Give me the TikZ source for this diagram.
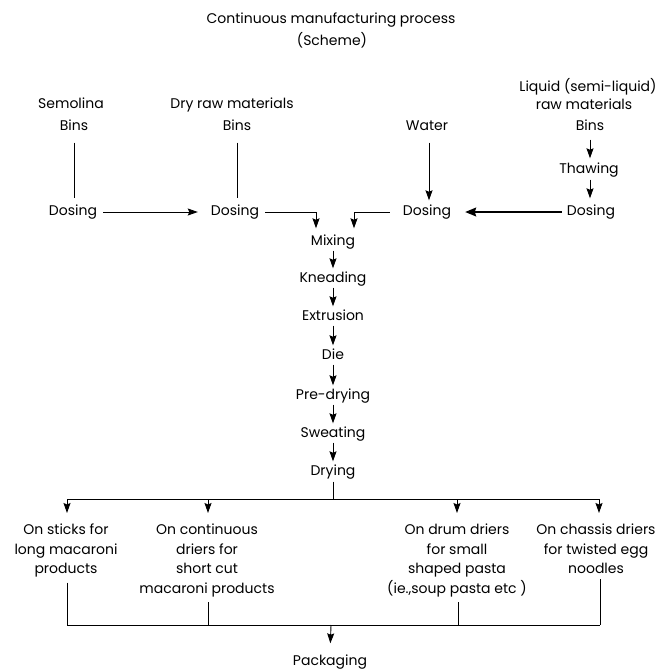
\documentclass[tikz,border=0pt]{standalone}
\usepackage{fontspec}
\setmainfont{Poppins}
\usetikzlibrary{arrows.meta,calc}
\begin{document}
\begin{tikzpicture}[x=1pt,y=-1pt,
  lbl/.style={inner sep=1pt,text height=10pt,text depth=3pt,font=\fontsize{14}{19.5}\selectfont},
  blk/.style={inner sep=0pt,align=center,anchor=north,font=\fontsize{14}{19.5}\selectfont},
  ln/.style={line width=0.9pt},
  arr/.style={line width=0.9pt,-{Stealth[length=10pt,width=7pt,inset=1.5pt]}},
  bigarr/.style={line width=1.2pt,-{Stealth[length=11pt,width=9pt,inset=1.5pt]}}]
\useasboundingbox (0,0) rectangle (662,669);
% title
\node[lbl] (title) at (331,20) {Continuous manufacturing process};
\node[lbl] (scheme) at (332,42) {(Scheme)};
% sources
\node[lbl] (sem) at (71,105) {Semolina};
\node[lbl] (bins1) at (74,127) {Bins};
\node[lbl] (dos1) at (73,212) {Dosing};
\node[lbl] (dry) at (232,105) {Dry raw materials};
\node[lbl] (bins2) at (237,127) {Bins};
\node[lbl] (dos2) at (235,212) {Dosing};
\node[lbl] (water) at (427,127) {Water};
\node[lbl] (dos3) at (427,212) {Dosing};
\node[lbl] (liq1) at (588,88) {Liquid (semi-liquid)};
\node[lbl] (liq2) at (584,106) {raw materials};
\node[lbl] (bins4) at (590,127) {Bins};
\node[lbl] (thaw) at (589,170) {Thawing};
\node[lbl] (dos4) at (591,212) {Dosing};
% chain
\node[lbl] (mix) at (333,242) {Mixing};
\node[lbl] (knead) at (333,279) {Kneading};
\node[lbl] (extr) at (333,317) {Extrusion};
\node[lbl] (die) at (333,356) {Die};
\node[lbl] (pre) at (333,396) {Pre-drying};
\node[lbl] (sweat) at (333,434) {Sweating};
\node[lbl] (drying) at (333,472) {Drying};
% branches
\node[blk] (c1) at (66,524) {On sticks for\\long macaroni\\products};
\node[blk] (c2) at (207,524) {On continuous\\driers for\\short cut\\macaroni products};
\node[blk] (c3) at (457,524) {On drum driers\\for small\\shaped pasta\\(ie.,soup pasta etc )};
\node[blk] (c4) at (596,524) {On chassis driers\\for twisted egg\\noodles};
\node[lbl] (pack) at (330,662) {Packaging};
% coordinates
\coordinate (t0) at (333,499);
\coordinate (t1) at (67,499);
\coordinate (t2) at (208,499);
\coordinate (t3) at (457,499);
\coordinate (t4) at (599,499);
\coordinate (p0) at (331,625);
\coordinate (p1) at (67,625);
\coordinate (p2) at (208,625);
\coordinate (p3) at (458,625);
\coordinate (p4) at (600,625);
% top connectors
\draw[ln,shorten <=8pt,shorten >=6pt] (bins1.south) -- (bins1.south |- dos1.north);
\draw[ln,shorten <=8pt,shorten >=6pt] (bins2.south) -- (bins2.south |- dos2.north);
\draw[arr,shorten <=8pt,shorten >=4pt] ([xshift=2pt]water.south) -- ([xshift=2pt]water.south |- dos3.north);
\draw[arr,shorten <=5pt,shorten >=4pt] (bins4.south) -- (bins4.south |- thaw.north);
\draw[arr,shorten <=2pt,shorten >=6pt] (bins4.south |- thaw.south) -- (bins4.south |- dos4.north);
\draw[arr] ([xshift=5pt]dos1.east) -- ([xshift=-12pt]dos2.west);
\draw[arr] ([xshift=5pt]dos2.east) -| ($(mix.north)+(-17,-6)$);
\draw[arr] ([xshift=-12pt]dos3.west) -| ($(mix.north)+(21,-6)$);
\draw[bigarr] ([xshift=-4pt]dos4.west) -- ([xshift=13pt]dos3.east);
% chain connectors
\foreach \a/\b in {mix/knead,knead/extr,extr/die,die/pre,pre/sweat,sweat/drying}
  \draw[arr,shorten <=1pt,shorten >=3pt] (\a.south) -- (\b.north);
% branch
\draw[ln,shorten <=2pt] (drying.south) -- (t0);
\draw[ln] (t1) -- (t4);
\draw[arr,shorten >=11pt] (t1) -- (t1 |- c1.north);
\draw[arr,shorten >=11pt] (t2) -- (t2 |- c2.north);
\draw[arr,shorten >=11pt] (t3) -- (t3 |- c3.north);
\draw[arr,shorten >=11pt] (t4) -- (t4 |- c4.north);
\draw[ln,shorten <=5pt] (c1.south -| p1) -- (p1);
\draw[ln,shorten <=5pt] (c2.south -| p2) -- (p2);
\draw[ln,shorten <=5pt] (c3.south -| p3) -- (p3);
\draw[ln,shorten <=5pt] (c4.south -| p4) -- (p4);
\draw[ln] (p1) -- (p4);
\draw[arr,shorten >=11pt] (p0) -- (pack.north);
\end{tikzpicture}
\end{document}
